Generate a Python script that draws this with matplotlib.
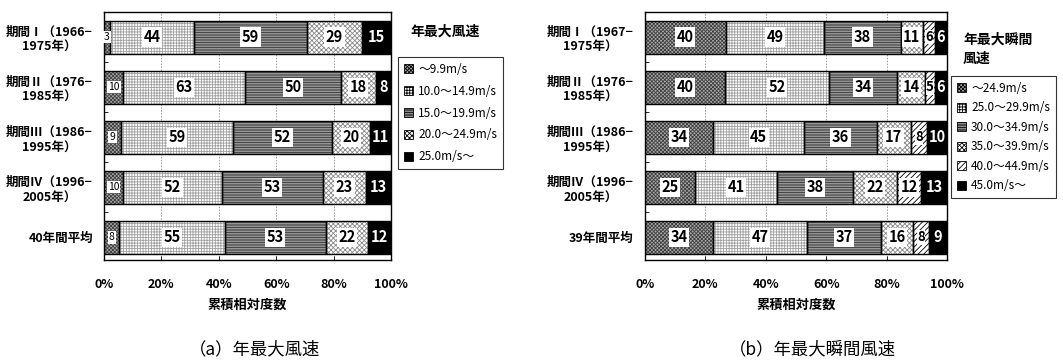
import matplotlib
matplotlib.use("Agg")
import matplotlib.pyplot as plt
import matplotlib.patches as mpatches
import numpy as np

plt.rcParams['font.family'] = ['Noto Sans CJK JP', 'DejaVu Sans']
plt.rcParams['hatch.linewidth'] = 0.6

# 年最大風速 (counts per class)
rows_a = ["期間Ⅰ（1966−\n1975年）", "期間Ⅱ（1976−\n1985年）", "期間Ⅲ（1986−\n1995年）",
          "期間Ⅳ（1996−\n2005年）", "40年間平均"]
classes_a = ["～9.9m/s", "10.0～14.9m/s", "15.0～19.9m/s", "20.0～24.9m/s", "25.0m/s～"]
counts_a = [[3, 44, 59, 29, 15],
            [10, 63, 50, 18, 8],
            [9, 59, 52, 20, 11],
            [10, 52, 53, 23, 13],
            [8, 55, 53, 22, 12]]

# 年最大瞬間風速
rows_b = ["期間Ⅰ（1967−\n1975年）", "期間Ⅱ（1976−\n1985年）", "期間Ⅲ（1986−\n1995年）",
          "期間Ⅳ（1996−\n2005年）", "39年間平均"]
classes_b = ["～24.9m/s", "25.0～29.9m/s", "30.0～34.9m/s", "35.0～39.9m/s",
             "40.0～44.9m/s", "45.0m/s～"]
counts_b = [[40, 49, 38, 11, 6, 6],
            [40, 52, 34, 14, 5, 6],
            [34, 45, 36, 17, 8, 10],
            [25, 41, 38, 22, 12, 13],
            [34, 47, 37, 16, 8, 9]]

# (facecolor, hatch, hatch colour) per class kind
styles = {
    "low":   ("#a8a8a8", "xxxxxxxxx", "#404040"),
    "grid":  ("white", "++++++", "#a0a0a0"),
    "hline": ("#b8b8b8", "----------", "#303030"),
    "check": ("white", "xxxxxxx", "#8a8a8a"),
    "diag":  ("white", "//////", "black"),
    "black": ("black", None, "black"),
}
kinds_a = ["low", "grid", "hline", "check", "black"]
kinds_b = ["low", "grid", "hline", "check", "diag", "black"]


def draw(ax, rows, counts, kinds, small_first):
    counts = np.array(counts, dtype=float)
    frac = counts / counts.sum(axis=1, keepdims=True)
    y = np.arange(len(rows))
    left = np.zeros(len(rows))
    h = 0.66
    for j, kind in enumerate(kinds):
        fc, hatch, hc = styles[kind]
        ax.barh(y, frac[:, j], left=left, height=h, color=fc, hatch=hatch,
                edgecolor=hc, linewidth=0, zorder=2)
        ax.barh(y, frac[:, j], left=left, height=h, fill=False,
                edgecolor="black", linewidth=1.0, zorder=3)
        for i in range(len(rows)):
            xc = left[i] + frac[i, j] / 2
            val = str(int(counts[i, j]))
            if kind == "black":
                ax.text(xc, y[i], val, ha="center", va="center", color="white",
                        fontsize=10.5, fontweight="bold", zorder=4)
            elif j == 0 and small_first:
                ax.text(xc, y[i], val, ha="center", va="center", fontsize=7.5,
                        zorder=4, bbox=dict(facecolor="white", edgecolor="none", pad=0.8))
            elif frac[i, j] < 0.06:
                ax.text(xc, y[i], val, ha="center", va="center", fontsize=9.5,
                        fontweight="bold", zorder=4,
                        bbox=dict(facecolor="white", edgecolor="none", pad=0.3))
            else:
                ax.text(xc, y[i], val, ha="center", va="center", fontsize=10.5,
                        fontweight="bold", zorder=4,
                        bbox=dict(facecolor="white", edgecolor="none", pad=1.2))
        left += frac[:, j]

    ax.set_xlim(0, 1)
    ax.set_ylim(4.45, -0.5)
    ax.set_yticks(y)
    ax.set_yticklabels(rows, fontsize=9, fontweight="bold", linespacing=1.25)
    for t in ax.get_yticklabels():
        t.set_multialignment("center")
    ax.tick_params(axis="y", which="major", length=0, pad=8)
    ax.set_yticks(np.arange(0.5, len(rows) - 1, 1.0), minor=True)
    ax.tick_params(axis="y", which="minor", direction="in", length=3, width=0.6)
    ax.set_xticks(np.linspace(0, 1, 6))
    ax.set_xticklabels(["0%", "20%", "40%", "60%", "80%", "100%"],
                       fontsize=9, fontweight="bold")
    ax.tick_params(axis="x", direction="in", length=3, width=0.6, pad=13)
    ax.set_xlabel("累積相対度数", fontsize=9.5, fontweight="bold", labelpad=5)
    for xv in [0.2, 0.4, 0.6, 0.8]:
        ax.axvline(xv, color="#999999", linestyle=(0, (1.5, 1.5)), linewidth=0.7, zorder=1)
    for s in ax.spines.values():
        s.set_linewidth(1.0)


def legend_handles(classes, kinds):
    handles = []
    for c, k in zip(classes, kinds):
        fc, hatch, hc = styles[k]
        handles.append(mpatches.Rectangle((0, 0), 1, 1, facecolor=fc, hatch=hatch,
                                          edgecolor="black", linewidth=0.6, label=c))
    return handles


fig = plt.figure(figsize=(10.63, 3.61), dpi=100)
W, H = 1063, 361

ax1 = fig.add_axes([104 / W, 1 - 260 / H, 287 / W, 248 / H])
draw(ax1, rows_a, counts_a, kinds_a, True)
ax2 = fig.add_axes([645 / W, 1 - 260 / H, 302 / W, 248 / H])
draw(ax2, rows_b, counts_b, kinds_b, False)

fig.text(410 / W, 1 - 32 / H, "年最大風速", fontsize=10, fontweight="bold",
         ha="left", va="center")
leg1 = fig.legend(handles=legend_handles(classes_a, kinds_a), loc="upper left",
                  bbox_to_anchor=(398 / W, 1 - 57 / H), fontsize=8.5, frameon=True,
                  fancybox=False, edgecolor="black", handlelength=0.8, handleheight=0.8,
                  handletextpad=0.4, labelspacing=0.75, borderpad=0.5, borderaxespad=0)
leg1.get_frame().set_linewidth(0.8)

fig.text(963 / W, 1 - 49 / H, "年最大瞬間\n風速", fontsize=10, fontweight="bold",
         ha="left", va="center", linespacing=1.5)
leg2 = fig.legend(handles=legend_handles(classes_b, kinds_b), loc="upper left",
                  bbox_to_anchor=(951 / W, 1 - 76 / H), fontsize=8.5, frameon=True,
                  fancybox=False, edgecolor="black", handlelength=0.8, handleheight=0.8,
                  handletextpad=0.4, labelspacing=0.55, borderpad=0.5, borderaxespad=0)
leg2.get_frame().set_linewidth(0.8)

fig.text(255 / W, 1 - 349 / H, "（a）年最大風速", fontsize=12.5, ha="center", va="center")
fig.text(812 / W, 1 - 349 / H, "（b）年最大瞬間風速", fontsize=12.5, ha="center", va="center")

fig.savefig("out.png", dpi=100, facecolor="white")
